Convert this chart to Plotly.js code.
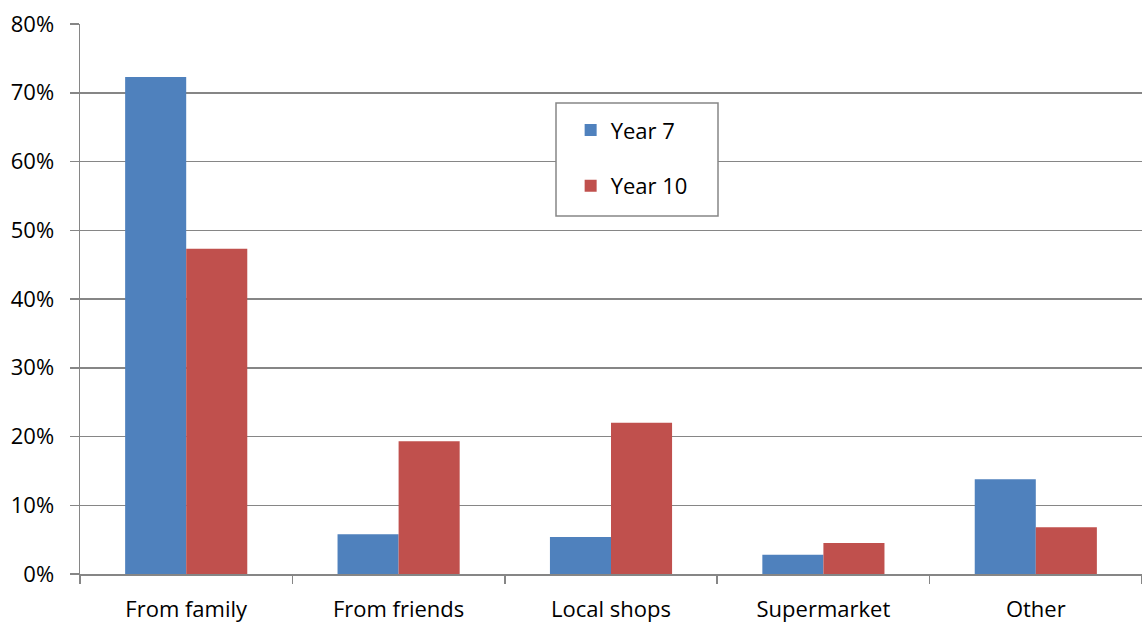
<!DOCTYPE html>
<html>
<head>
<meta charset="utf-8">
<script src="https://cdn.plot.ly/plotly-3.0.1.min.js"></script>
<style>html,body{margin:0;padding:0;background:#fff;}#chart{width:1142px;height:624px;}</style>
</head>
<body>
<div id="chart"></div>
<script>
const categories = ["From family", "From friends", "Local shops", "Supermarket", "Other"];
const seriesNames = ["Year 7", "Year 10"];
const year7 = [0.723, 0.058, 0.054, 0.028, 0.138];
const year10 = [0.473, 0.193, 0.220, 0.045, 0.068];
const colors = ["#4F81BD", "#C0504D"];

const fontFamily = "'Open Sans', Lato, sans-serif";
const gridColor = "#868686";

const traces = [year7, year10].map((vals, i) => ({
  type: "bar",
  name: seriesNames[i],
  x: categories,
  y: vals,
  marker: {color: colors[i], line: {width: 0}},
  legendgroup: "g" + i,
  hoverinfo: "x+y+name"
}));

const layout = {
  width: 1142,
  height: 624,
  margin: {l: 80, r: 0, t: 24, b: 50},
  paper_bgcolor: "#ffffff",
  plot_bgcolor: "#ffffff",
  font: {family: fontFamily, size: 22, color: "#000000"},
  barmode: "group",
  bargap: 0.425,
  bargroupgap: 0,
  showlegend: true,
  legend: {
    x: 0.462, y: 0.845, xanchor: "left", yanchor: "top",
    bgcolor: "rgba(0,0,0,0)",
    borderwidth: 0,
    font: {family: fontFamily, size: 22, color: "#000"},
    tracegroupgap: 24,
    itemwidth: 30
  },
  xaxis: {
    type: "category",
    showgrid: false,
    showline: true,
    linecolor: gridColor,
    linewidth: 1.5,
    ticks: "outside",
    tickson: "boundaries",
    ticklen: 8,
    tickwidth: 1.5,
    tickcolor: gridColor,
    ticklabelstandoff: 15,
    tickfont: {family: fontFamily, size: 22, color: "#000"},
    fixedrange: true
  },
  yaxis: {
    range: [0, 0.8],
    dtick: 0.1,
    tick0: 0,
    tickformat: ".0%",
    showgrid: true,
    gridcolor: gridColor,
    gridwidth: 1.5,
    showline: true,
    linecolor: gridColor,
    linewidth: 1.5,
    ticks: "outside",
    ticklen: 9,
    tickwidth: 1.5,
    tickcolor: gridColor,
    ticklabelstandoff: 11,
    zeroline: false,
    tickfont: {family: fontFamily, size: 22, color: "#000"},
    fixedrange: true
  },
  shapes: [{
    type: "rect", xref: "paper", yref: "paper",
    x0: (556 - 80) / 1062, x1: (718 - 80) / 1062,
    y0: (574 - 216) / 550, y1: (574 - 103) / 550,
    line: {color: gridColor, width: 1.5},
    fillcolor: "#ffffff",
    layer: "above"
  }]
};

Plotly.newPlot("chart", traces, layout, {displayModeBar: false, staticPlot: true});
</script>
</body>
</html>
